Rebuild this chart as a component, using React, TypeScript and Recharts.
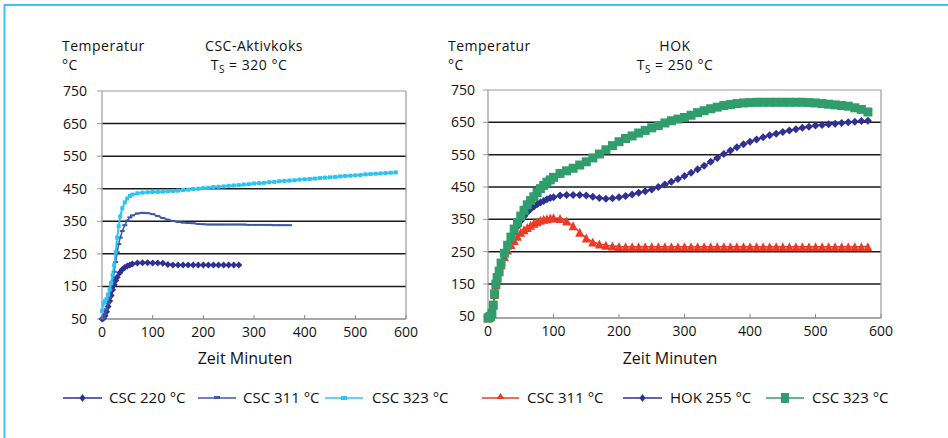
import React from 'react';
import { ComposedChart, Scatter, XAxis, YAxis, ReferenceLine } from 'recharts';

const FONT = "'Open Sans', 'DejaVu Sans', sans-serif";

const X_TICKS = [0, 100, 200, 300, 400, 500, 600];
const Y_TICKS = [50, 150, 250, 350, 450, 550, 650, 750];
const GRID_LINES = [150, 250, 350, 450, 550, 650];

// ---- Left chart: CSC-Aktivkoks ----
const L220_T = [0, 3, 6, 9, 12, 15, 18, 21, 24, 27, 30, 35, 40, 45, 50, 55, 60, 70, 80, 90, 100, 110, 120, 130, 140, 150, 160, 170, 180, 190, 200, 210, 220, 230, 240, 250, 260, 270];
const L220_V = [50, 52, 60, 72, 88, 105, 122, 140, 155, 168, 178, 192, 202, 208, 213, 216, 219, 222, 223, 223, 222, 222, 221, 217, 216, 216, 216, 216, 216, 216, 216, 216, 216, 216, 216, 216, 216, 216];

const L311_T = [0, 3, 6, 9, 12, 15, 18, 21, 24, 27, 30, 33, 36, 40, 45, 50, 55, 60, 70, 80, 90, 100, 110, 120, 130, 140, 150, 160, 170, 180, 190, 200, 210, 220, 230, 240, 250, 260, 270, 280, 290, 300, 310, 320, 330, 340, 350, 360, 370];
const L311_V = [50, 55, 65, 80, 98, 115, 140, 165, 195, 225, 255, 280, 300, 320, 338, 352, 362, 368, 374, 376, 375, 372, 366, 360, 355, 351, 348, 346, 345, 344, 342, 341, 340, 340, 340, 340, 340, 340, 340, 340, 339, 339, 339, 339, 339, 338, 338, 338, 338];

const L323_T = [0, 3, 6, 9, 12, 15, 18, 21, 24, 27, 30, 33, 36, 40, 45, 50, 55, 60, 70, 80, 90, 100, 110, 120, 130, 140, 150, 160, 170, 180, 190, 200, 210, 220, 230, 240, 250, 260, 270, 280, 290, 300, 310, 320, 330, 340, 350, 360, 370, 380, 390, 400, 410, 420, 430, 440, 450, 460, 470, 480, 490, 500, 510, 520, 530, 540, 550, 560, 570, 580];
const L323_V = [75, 98, 105, 112, 125, 140, 160, 185, 215, 255, 300, 335, 365, 390, 408, 420, 428, 432, 436, 438, 439, 440, 440, 441, 442, 443, 444, 446, 447, 449, 450, 452, 453, 455, 456, 457, 459, 460, 461, 463, 464, 466, 467, 468, 470, 471, 473, 474, 475, 476, 478, 479, 480, 481, 483, 484, 485, 486, 488, 489, 490, 491, 492, 494, 495, 496, 497, 498, 499, 500];

// ---- Right chart: HOK ----
const R_T = [0, 2, 4, 6, 8, 10, 12, 14, 17, 20, 25, 30, 35, 40, 45, 50, 55, 60, 65, 70, 75, 80, 85, 90, 95, 100, 110, 120, 130, 140, 150, 160, 170, 180, 190, 200, 210, 220, 230, 240, 250, 260, 270, 280, 290, 300, 310, 320, 330, 340, 350, 360, 370, 380, 390, 400, 410, 420, 430, 440, 450, 460, 470, 480, 490, 500, 510, 520, 530, 540, 550, 560, 570, 580];
const R_CSC311_V = [45, 48, 50, 60, 85, 118, 148, 168, 188, 210, 235, 255, 272, 285, 298, 310, 318, 325, 332, 338, 343, 347, 350, 352, 354, 355, 353, 345, 330, 310, 292, 280, 274, 270, 268, 266, 265, 265, 265, 265, 265, 265, 265, 265, 265, 265, 265, 265, 265, 265, 265, 265, 265, 265, 265, 265, 265, 265, 265, 265, 265, 265, 265, 265, 265, 265, 265, 265, 265, 265, 265, 265, 265, 265];
const R_HOK255_V = [45, 48, 50, 60, 85, 118, 148, 168, 188, 212, 240, 265, 290, 310, 328, 345, 360, 372, 382, 390, 397, 402, 407, 412, 416, 418, 424, 425, 425, 425, 424, 420, 416, 414, 415, 418, 422, 427, 432, 437, 442, 450, 458, 466, 475, 484, 494, 505, 516, 528, 540, 552, 563, 573, 582, 590, 597, 604, 610, 615, 620, 625, 629, 633, 636, 640, 642, 644, 646, 648, 650, 652, 654, 655];
const R_CSC323_V = [45, 48, 50, 60, 85, 120, 150, 170, 190, 215, 245, 270, 295, 320, 340, 360, 378, 395, 408, 420, 433, 445, 455, 465, 472, 480, 492, 500, 508, 518, 528, 540, 552, 565, 578, 590, 600, 608, 617, 625, 633, 640, 648, 655, 660, 665, 672, 680, 686, 692, 697, 702, 705, 708, 710, 711, 712, 712, 712, 712, 712, 712, 712, 712, 711, 710, 708, 706, 704, 702, 700, 695, 690, 682];

const zip = (t: number[], v: number[]) => t.map((x, i) => ({ x, y: v[i] }));

const C_NAVY = '#2e3192';
const C_BLUE = '#3d58a8';
const C_CYAN = '#2ec4f2';
const C_RED = '#ee3a24';
const C_GREEN = '#2f9e6c';

const diamond = (r: number, fill: string) => (p: any) => (
  <polygon points={`${p.cx},${p.cy - r} ${p.cx + r},${p.cy} ${p.cx},${p.cy + r} ${p.cx - r},${p.cy}`} fill={fill} />
);
const rectM = (w: number, h: number, fill: string) => (p: any) => (
  <rect x={p.cx - w / 2} y={p.cy - h / 2} width={w} height={h} fill={fill} />
);
const triangle = (w: number, h: number, fill: string) => (p: any) => (
  <polygon points={`${p.cx},${p.cy - h / 2} ${p.cx + w / 2},${p.cy + h / 2} ${p.cx - w / 2},${p.cy + h / 2}`} fill={fill} />
);

const XTick = (props: any) => {
  const { x, y, payload } = props;
  const axisY = y - 8;
  return (
    <g>
      <line x1={x} x2={x} y1={axisY - 4} y2={axisY} stroke="#888" strokeWidth={1} />
      <text x={x} y={y} dy="0.71em" textAnchor="middle" fontSize={14} fontFamily={FONT} fill="#111">
        {payload.value}
      </text>
    </g>
  );
};

const commonAxes = (yWidth: number, xHeight: number, tickMargin: number) => [
  <XAxis
    key="x"
    xAxisId={0}
    type="number"
    dataKey="x"
    domain={[0, 600]}
    ticks={X_TICKS}
    interval={0}
    height={xHeight}
    tickSize={0}
    tickMargin={8}
    tick={<XTick />}
    axisLine={{ stroke: '#888', strokeWidth: 1.5 }}
    tickLine={false}
  />,
  <YAxis
    key="y"
    yAxisId={0}
    type="number"
    dataKey="y"
    domain={[50, 750]}
    ticks={Y_TICKS}
    interval={0}
    width={yWidth}
    tickSize={5}
    tickMargin={tickMargin}
    tick={{ fontSize: 14, fontFamily: FONT, fill: '#111' }}
    axisLine={{ stroke: '#999', strokeWidth: 1.2 }}
    tickLine={{ stroke: '#999' }}
  />,
  ...GRID_LINES.map((g) => (
    <ReferenceLine key={'g' + g} y={g} stroke="#1a1a1a" strokeWidth={1.5} />
  )),
  <ReferenceLine key="top" y={750} stroke="#999" strokeWidth={1.2} />,
  <ReferenceLine key="right" x={600} stroke="#999" strokeWidth={1.2} />,
];

const LeftChart = () => (
  <ComposedChart width={420} height={350} margin={{ top: 91, right: 14, bottom: 1, left: 0 }}>
    {commonAxes(102, 30, 10)}
    <Scatter name="CSC 220 °C" data={zip(L220_T, L220_V)} dataKey="y" isAnimationActive={false}
      line={{ stroke: C_NAVY, strokeWidth: 2 }} shape={diamond(3.5, C_NAVY)} />
    <Scatter name="CSC 311 °C" data={zip(L311_T, L311_V)} dataKey="y" isAnimationActive={false}
      line={{ stroke: C_BLUE, strokeWidth: 1.5 }} shape={rectM(5, 2, C_BLUE)} />
    <Scatter name="CSC 323 °C" data={zip(L323_T, L323_V)} dataKey="y" isAnimationActive={false}
      line={{ stroke: C_CYAN, strokeWidth: 2 }} shape={rectM(4, 4, C_CYAN)} />
  </ComposedChart>
);

const RightChart = () => (
  <ComposedChart width={500} height={350} margin={{ top: 90, right: 19, bottom: 1, left: 0 }}>
    {commonAxes(88, 31, 8)}
    <Scatter name="CSC 311 °C" data={zip(R_T, R_CSC311_V)} dataKey="y" isAnimationActive={false}
      line={{ stroke: C_RED, strokeWidth: 1.5 }} shape={triangle(9, 9, C_RED)} />
    <Scatter name="HOK 255 °C" data={zip(R_T, R_HOK255_V)} dataKey="y" isAnimationActive={false}
      line={{ stroke: C_NAVY, strokeWidth: 1.5 }} shape={diamond(4, C_NAVY)} />
    <Scatter name="CSC 323 °C" data={zip(R_T, R_CSC323_V)} dataKey="y" isAnimationActive={false}
      line={{ stroke: C_GREEN, strokeWidth: 1.5 }} shape={rectM(9, 9, C_GREEN)} />
  </ComposedChart>
);

type LegendItem = { label: string; x1: number; x2: number; tx: number; color: string; marker: string };
const LEGEND_ITEMS: LegendItem[] = [
  { label: 'CSC 220 °C', x1: 63, x2: 102, tx: 109, color: C_NAVY, marker: 'diamond' },
  { label: 'CSC 311 °C', x1: 198, x2: 236, tx: 243, color: C_BLUE, marker: 'dash' },
  { label: 'CSC 323 °C', x1: 325, x2: 363, tx: 372, color: C_CYAN, marker: 'smallsq' },
  { label: 'CSC 311 °C', x1: 482, x2: 519, tx: 527, color: C_RED, marker: 'triangle' },
  { label: 'HOK 255 °C', x1: 623, x2: 662, tx: 670, color: C_NAVY, marker: 'diamond' },
  { label: 'CSC 323 °C', x1: 766, x2: 804, tx: 812, color: C_GREEN, marker: 'square' },
];

const LegendMarker = ({ m, cx, cy, color }: { m: string; cx: number; cy: number; color: string }) => {
  if (m === 'diamond') return <polygon points={`${cx},${cy - 4} ${cx + 3},${cy} ${cx},${cy + 4} ${cx - 3},${cy}`} fill={color} />;
  if (m === 'dash') return <rect x={cx - 3} y={cy - 2} width={6} height={3} fill={color} />;
  if (m === 'smallsq') return <rect x={cx - 3} y={cy - 2} width={6} height={4} fill={color} />;
  if (m === 'triangle') return <polygon points={`${cx},${cy - 5} ${cx + 4},${cy + 1} ${cx - 4},${cy + 1}`} fill={color} />;
  return <rect x={cx - 4} y={cy - 5} width={8} height={10} fill={color} />;
};

const Overlay = () => {
  const ly = 398;
  return (
    <svg width={948} height={438} style={{ position: 'absolute', left: 0, top: 0, pointerEvents: 'none' }}>
      <line x1={4.5} y1={5} x2={948} y2={5} stroke="#3ec3f3" strokeWidth={2} />
      <line x1={4.5} y1={4} x2={4.5} y2={438} stroke="#3ec3f3" strokeWidth={2} />
      <g fontFamily={FONT} fontSize={14} fill="#111" letterSpacing={0.5}>
        <text x={62} y={50.5}>Temperatur</text>
        <text x={62} y={70}>°C</text>
        <text x={254} y={50.5} textAnchor="middle">CSC-Aktivkoks</text>
        <text x={249} y={70} textAnchor="middle">
          T<tspan fontSize={10} dy={3}>S</tspan><tspan dy={-3}> = 320 °C</tspan>
        </text>
        <text x={448} y={50.5}>Temperatur</text>
        <text x={448} y={70}>°C</text>
        <text x={675} y={50.5} textAnchor="middle">HOK</text>
        <text x={675} y={70} textAnchor="middle">
          T<tspan fontSize={10} dy={3}>S</tspan><tspan dy={-3}> = 250 °C</tspan>
        </text>
      </g>
      <g fontFamily={FONT} fontSize={15} fill="#111">
        <text x={245} y={364} textAnchor="middle" fontSize={16}>Zeit Minuten</text>
        <text x={670} y={364} textAnchor="middle" fontSize={16}>Zeit Minuten</text>
        {LEGEND_ITEMS.map((it, i) => (
          <g key={i}>
            <line x1={it.x1} x2={it.x2} y1={ly} y2={ly} stroke={it.color} strokeWidth={1.5} />
            <LegendMarker m={it.marker} cx={(it.x1 + it.x2) / 2} cy={ly} color={it.color} />
            <text x={it.tx} y={ly + 5}>{it.label}</text>
          </g>
        ))}
      </g>
    </svg>
  );
};

export default function App() {
  return (
    <div style={{ position: 'absolute', left: 0, top: 0, width: 948, height: 438, background: '#fff', overflow: 'hidden' }}>
      <div style={{ position: 'absolute', left: 0, top: 0 }}>
        <LeftChart />
      </div>
      <div style={{ position: 'absolute', left: 400, top: 0 }}>
        <RightChart />
      </div>
      <Overlay />
    </div>
  );
}
